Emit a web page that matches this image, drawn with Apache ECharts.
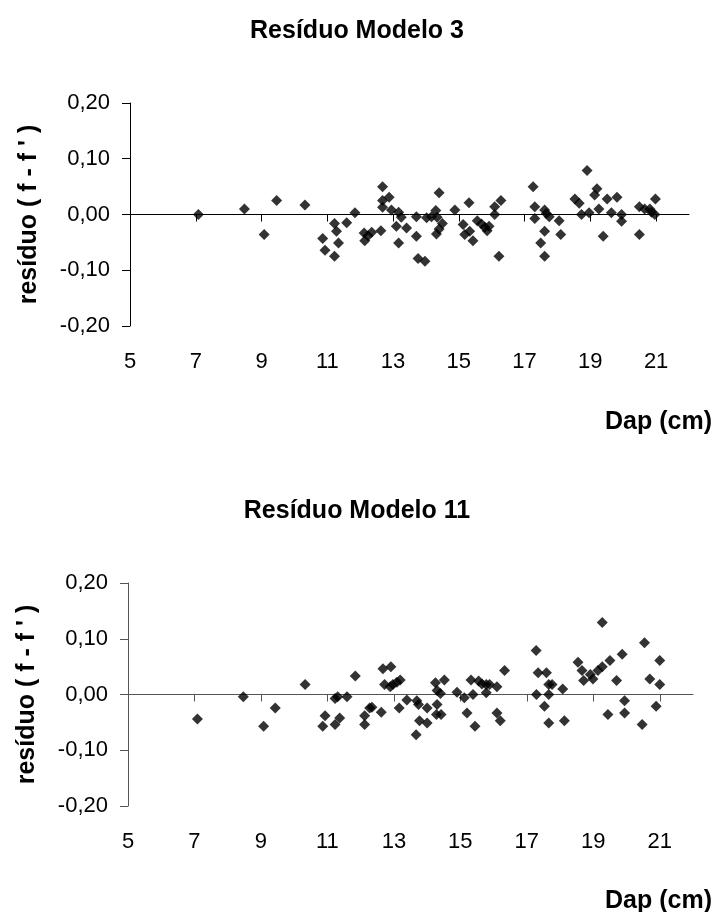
<!DOCTYPE html>
<html>
<head>
<meta charset="utf-8">
<script src="https://cdn.jsdelivr.net/npm/echarts@6/dist/echarts.min.js"></script>
<style>
  html, body { margin: 0; padding: 0; background: #fff; }
  #chart { width: 720px; height: 912px; }
</style>
</head>
<body>
<div id="chart"></div>
<script>
// Diameter (cm) and residual for Modelo 3
const dap3 = [7.08, 8.48, 9.08, 9.46, 10.32, 10.86, 10.93, 11.22, 11.28, 11.22, 11.34, 11.59, 11.84,
  12.12, 12.14, 12.24, 12.35, 12.63, 12.68, 12.68, 12.68, 12.88, 12.95, 13.10, 13.17, 13.17, 13.25,
  13.41, 13.71, 13.71, 13.76, 13.97, 14.02, 14.17, 14.30, 14.34, 14.40, 14.32, 14.40, 14.50, 14.88,
  15.13, 15.18, 15.31, 15.33, 15.43, 15.56, 15.69, 15.79, 15.86, 15.92, 16.09, 16.09, 16.22, 16.28,
  17.26, 17.31, 17.31, 17.61, 17.66, 17.75, 17.61, 17.49, 17.61, 18.05, 18.10, 18.53, 18.66, 18.73,
  18.90, 18.96, 19.20, 19.13, 19.26, 19.39, 19.51, 19.64, 19.81, 19.95, 19.95, 20.49, 20.49, 20.65,
  20.81, 20.86, 20.96, 20.98];
const res3 = [0.000, 0.010, -0.036, 0.025, 0.017, -0.043, -0.064, -0.016, -0.030, -0.075, -0.051, -0.015, 0.003,
  -0.033, -0.047, -0.038, -0.032, -0.029, 0.050, 0.025, 0.013, 0.031, 0.008, -0.021, -0.051, 0.004, -0.005,
  -0.024, -0.004, -0.039, -0.079, -0.084, -0.006, -0.004, 0.007, -0.005, 0.039, -0.035, -0.026, -0.016, 0.008,
  -0.018, -0.036, 0.021, -0.030, -0.047, -0.011, -0.017, -0.023, -0.029, -0.021, 0.014, 0.000, -0.075, 0.025,
  0.050, 0.014, -0.007, 0.008, 0.002, -0.004, -0.030, -0.051, -0.075, -0.011, -0.036, 0.028, 0.020, 0.000,
  0.079, 0.003, 0.046, 0.035, 0.010, -0.039, 0.028, 0.003, 0.031, 0.000, -0.012, 0.014, -0.036, 0.010,
  0.010, 0.004, 0.000, 0.028];

// Diameter (cm) and residual for Modelo 11
const dap11 = [7.09, 8.47, 9.08, 9.43, 10.33, 10.86, 10.93, 11.23, 11.31, 11.23, 11.37, 11.59, 11.84,
  12.12, 12.12, 12.27, 12.34, 12.62, 12.67, 12.72, 12.91, 12.89, 12.97, 13.09, 13.19, 13.16, 13.39,
  13.69, 13.74, 13.77, 13.67, 14.00, 14.00, 14.25, 14.30, 14.40, 14.30, 14.28, 14.42, 14.52, 14.90,
  15.12, 15.20, 15.32, 15.38, 15.44, 15.55, 15.65, 15.78, 15.78, 15.88, 16.10, 16.10, 16.20, 16.33,
  17.28, 17.34, 17.29, 17.59, 17.53, 17.66, 17.76, 17.66, 17.66, 18.08, 18.13, 18.54, 18.66, 18.71,
  18.91, 18.99, 19.14, 19.27, 19.27, 19.50, 19.44, 19.70, 19.87, 19.94, 19.94, 20.47, 20.54, 20.70,
  20.89, 21.00, 21.00];
const res11 = [-0.044, -0.004, -0.057, -0.024, 0.018, -0.057, -0.038, -0.007, -0.004, -0.054, -0.042, -0.004, 0.033,
  -0.038, -0.054, -0.024, -0.023, -0.032, 0.046, 0.018, 0.050, 0.014, 0.018, 0.022, 0.026, -0.024, -0.010,
  -0.011, -0.018, -0.047, -0.072, -0.051, -0.024, 0.021, 0.007, 0.002, -0.018, -0.036, -0.036, 0.026, 0.004,
  -0.006, -0.033, 0.026, 0.000, -0.057, 0.024, 0.019, 0.018, 0.003, 0.018, 0.014, -0.033, -0.047, 0.043,
  0.079, 0.039, 0.000, 0.039, -0.021, 0.018, 0.018, 0.000, -0.051, 0.010, -0.047, 0.058, 0.043, 0.025,
  0.036, 0.028, 0.043, 0.050, 0.129, 0.061, -0.036, 0.025, 0.072, -0.011, -0.033, -0.054, 0.093, 0.028,
  -0.021, 0.061, 0.018];

// Axis tick values
const xTicks = [5, 7, 9, 11, 13, 15, 17, 19, 21];
const yTicks = [-0.2, -0.1, 0, 0.1, 0.2];

const titles = ['Resíduo Modelo 3', 'Resíduo Modelo 11'];
const yName = 'resíduo ( f - f \' )';
const xName = 'Dap (cm)';

const FONT = '"Liberation Sans", Arial, sans-serif';
const fmtY = v => (Math.abs(v) < 1e-9 ? 0 : v).toFixed(2).replace('.', ',');
const zip = (a, b) => a.map((x, i) => [x, b[i]]);

const grids = [
  { left: 130, right: 31, top: 103, height: 223 },
  { left: 128, right: 27, top: 583, height: 223 }
];
const axisColors = ['#000', '#555'];

const xAxes = [];
const yAxes = [];
grids.forEach((g, i) => {
  const col = axisColors[i];
  // zero line carrying the tick marks
  xAxes.push({
    gridIndex: i, type: 'value', min: 5, max: 22, interval: 2,
    axisLine: { show: true, onZero: true, lineStyle: { color: col, width: 1 } },
    axisTick: { show: true, length: 7, customValues: xTicks, lineStyle: { color: col } },
    axisLabel: { show: false },
    splitLine: { show: false }
  });
  // tick labels along the bottom edge
  xAxes.push({
    gridIndex: i, type: 'value', min: 5, max: 22, interval: 2, position: 'bottom',
    axisLine: { show: false, onZero: false },
    axisTick: { show: false },
    axisLabel: { show: true, customValues: xTicks, fontSize: 22, color: '#000', fontFamily: FONT, margin: 25 },
    splitLine: { show: false }
  });
  yAxes.push({
    gridIndex: i, type: 'value', min: -0.2, max: 0.2, interval: 0.1,
    axisLine: { show: true, onZero: false, lineStyle: { color: col, width: 1 } },
    axisTick: { show: true, length: 8, customValues: yTicks, lineStyle: { color: col } },
    axisLabel: { customValues: yTicks, formatter: fmtY, fontSize: 22, color: '#000', fontFamily: FONT, margin: 20 },
    splitLine: { show: false },
    name: yName, nameLocation: 'middle', nameRotate: 90, nameGap: 88,
    nameTextStyle: { fontSize: 25, fontWeight: 'bold', color: '#000', fontFamily: FONT }
  });
});

const titleStyle = { fontSize: 25, fontWeight: 'bold', color: '#000', fontFamily: FONT };
const option = {
  backgroundColor: '#fff',
  animation: false,
  title: [
    { text: titles[0], left: 352, top: 14, textAlign: 'center', textStyle: titleStyle },
    { text: titles[1], left: 352, top: 494, textAlign: 'center', textStyle: titleStyle },
    { text: xName, right: 3, top: 405, textStyle: titleStyle },
    { text: xName, right: 3, top: 884, textStyle: titleStyle }
  ],
  grid: grids,
  xAxis: xAxes,
  yAxis: yAxes,
  series: [
    { type: 'scatter', xAxisIndex: 0, yAxisIndex: 0, symbol: 'diamond', symbolSize: 11,
      itemStyle: { color: '#000' }, data: zip(dap3, res3) },
    { type: 'scatter', xAxisIndex: 2, yAxisIndex: 1, symbol: 'diamond', symbolSize: 11,
      itemStyle: { color: '#000' }, data: zip(dap11, res11) }
  ]
};

echarts.init(document.getElementById('chart'), null, { renderer: 'canvas' }).setOption(option);
</script>
</body>
</html>
